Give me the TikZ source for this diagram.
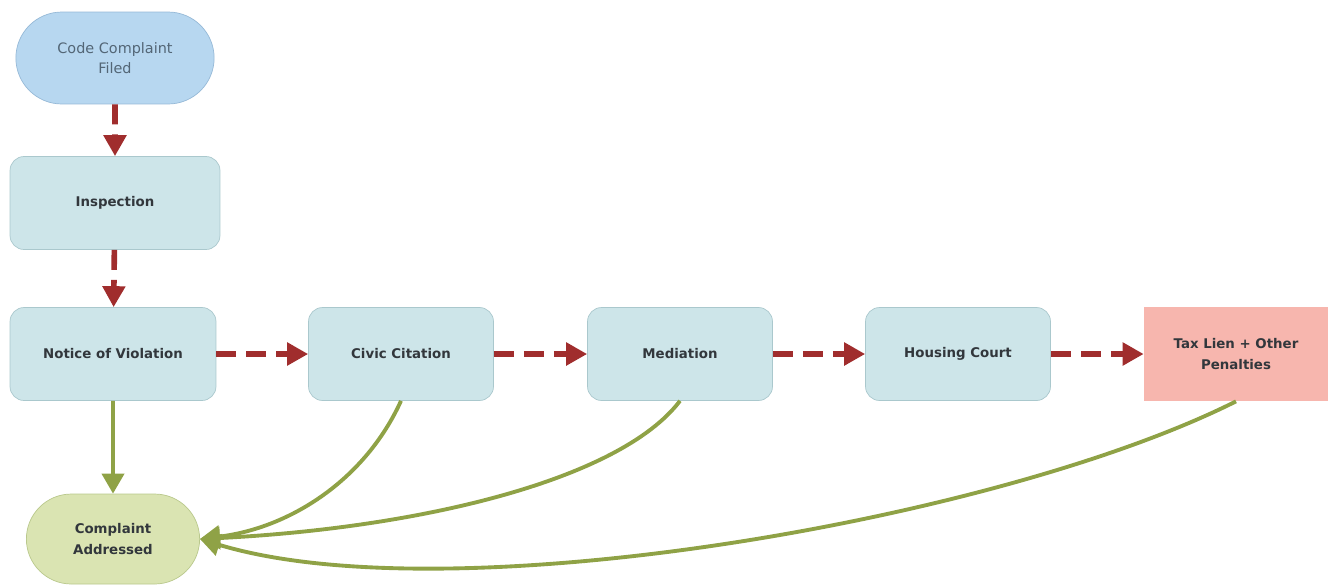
\documentclass[tikz,border=0pt]{standalone}
\usepackage{fontspec}
\setmainfont{DejaVu Sans}
\definecolor{cfblue}{RGB}{183,215,240}
\definecolor{cfblueline}{RGB}{150,185,215}
\definecolor{cfteal}{RGB}{205,229,233}
\definecolor{cftealline}{RGB}{170,200,205}
\definecolor{cfpink}{RGB}{247,182,174}
\definecolor{cfolive}{RGB}{218,228,178}
\definecolor{cfoliveline}{RGB}{185,200,140}
\definecolor{cfred}{RGB}{160,45,45}
\definecolor{cfgreen}{RGB}{143,162,70}
\definecolor{cftext}{RGB}{50,55,60}
\usetikzlibrary{arrows.meta,positioning,shapes.misc}

\begin{document}
\begin{tikzpicture}[
  x=0.02cm, y=-0.02cm,
  every node/.style={font=\fontsize{7.6}{11.5}\selectfont\bfseries,text=cftext},
  startend/.style={draw=cfblueline,rounded rectangle,fill=cfblue,minimum width=4.2cm,
                   minimum height=1.84cm,align=center},
  stepbox/.style={draw=cftealline,rounded corners=8pt,fill=cfteal,minimum width=3.7cm,
                  minimum height=1.86cm,align=center},
  penbox/.style={fill=cfpink,minimum width=3.68cm,minimum height=1.88cm,align=center},
  donebox/.style={draw=cfoliveline,rounded rectangle,fill=cfolive,minimum width=3.7cm,
                  minimum height=1.8cm,align=center},
  escal/.style={-{Triangle[length=0.42cm,width=0.44cm]},line width=3.2pt,cfred,
                dash pattern=on 0.4cm off 0.2cm},
  resolve/.style={-{Triangle[length=0.4cm,width=0.44cm]},line width=2.2pt,cfgreen},
]
  \useasboundingbox (0,0) rectangle (1328,586);

  % intake
  \node[startend,font=\fontsize{8.2}{11.5}\selectfont,text=cfblueline!55!black] (filed) at (115,58) {Code Complaint\\Filed};
  \node[stepbox,minimum width=4.2cm] (insp) at (115,203) {Inspection};

  % escalation chain
  \node[stepbox,minimum width=4.12cm] (nov)  at (113,354)  {Notice of Violation};
  \node[stepbox] (civic) at (401,354)  {Civic Citation};
  \node[stepbox] (med)   at (680,354)  {Mediation};
  \node[stepbox] (court) at (958,354)  {Housing Court};
  \node[penbox]  (lien)  at (1236,354) {Tax Lien + Other\\Penalties};

  % outcome
  \node[donebox] (done) at (113,539) {Complaint\\Addressed};

  % red dashed flow
  \draw[escal] (filed) -- (insp);
  \draw[escal] (insp)  -- (nov);
  \draw[escal] (nov)   -- (civic);
  \draw[escal] (civic) -- (med);
  \draw[escal] (med)   -- (court);
  \draw[escal] (court) -- (lien);

  % green resolutions
  \draw[resolve] (nov) -- (done);
  \draw[resolve] (civic.south) .. controls (365,480) and (290,528) .. (done.east);
  \draw[resolve] (med.south) .. controls (620,480) and (420,528) .. (done.east);
  \draw[resolve] (lien.south) .. controls (1000,520) and (450,615) .. (done.east);
\end{tikzpicture}
\end{document}
